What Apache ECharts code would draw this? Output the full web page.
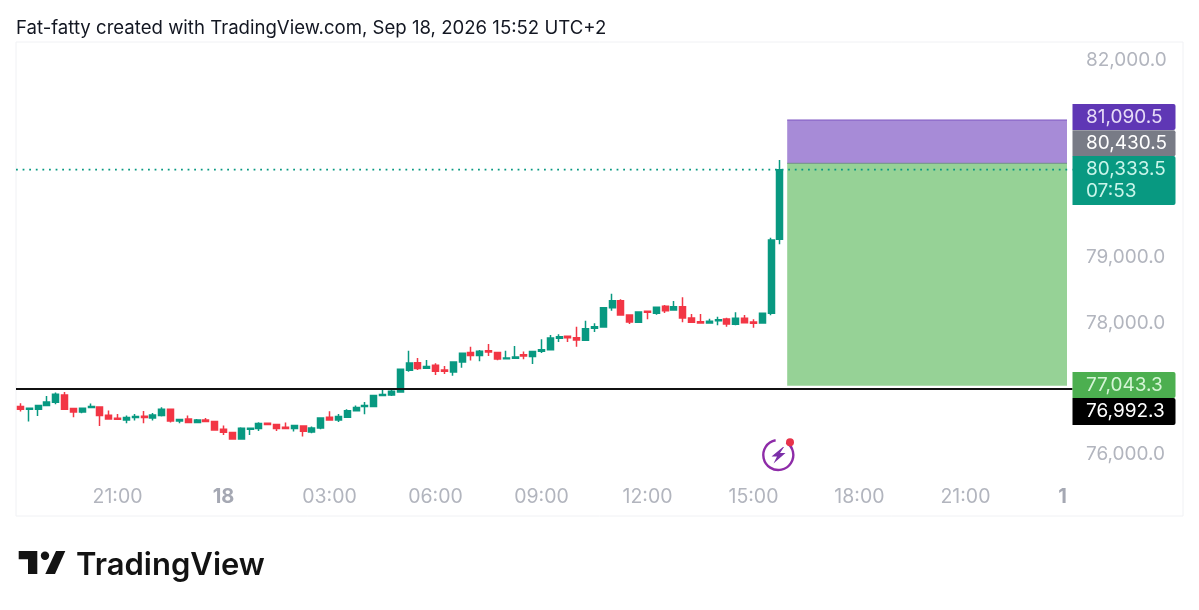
<!DOCTYPE html>
<html><head><meta charset="utf-8">
<style>html,body{margin:0;padding:0;background:#fff}#c{width:1199px;height:610px}</style>
<script src="https://cdn.jsdelivr.net/npm/echarts@6/dist/echarts.min.js"></script>
</head><body><div id="c"></div>
<script>
const opens=[76725,76684,76684,76740,76791,76902,76694,76643,76709,76719,76593,76547,76521,76557,76577,76552,76587,76684,76506,76537,76481,76521,76496,76379,76328,76232,76379,76389,76471,76450,76410,76389,76430,76338,76399,76562,76521,76562,76663,76724,76724,76892,76902,76948,77278,77394,77308,77354,77283,77252,77405,77547,77501,77577,77547,77455,77460,77516,77486,77566,77592,77764,77795,77775,77734,77917,77937,78232,78338,78120,78008,78176,78145,78252,78196,78247,78074,78018,77998,78034,78059,77978,78069,78013,77998,78145,79273];
const closes=[76684,76699,76740,76796,76912,76684,76643,76699,76725,76587,76537,76532,76557,76572,76557,76598,76684,76506,76527,76481,76521,76496,76369,76334,76232,76395,76395,76466,76450,76389,76389,76435,76349,76399,76552,76521,76572,76663,76709,76740,76892,76907,76958,77293,77389,77303,77334,77262,77262,77405,77537,77501,77567,77557,77450,77466,77481,77496,77562,77592,77770,77790,77775,77739,77912,77942,78232,78338,78120,78013,78166,78161,78237,78186,78247,78074,78008,77998,78023,78049,77983,78069,78003,77993,78145,79263,80333.5];
const lows=[76648,76496,76582,76740,76760,76684,76562,76623,76704,76430,76532,76527,76471,76511,76471,76511,76572,76481,76471,76471,76476,76486,76369,76293,76227,76232,76293,76354,76445,76354,76379,76344,76267,76318,76379,76516,76491,76557,76658,76608,76714,76892,76887,76948,77257,77283,77303,77207,77222,77196,77318,77425,77415,77496,77430,77450,77455,77445,77374,77541,77582,77709,77709,77638,77729,77861,77932,78186,78120,77983,78008,78054,78125,78150,78186,78008,78003,77998,77993,77963,77942,77963,77993,77927,77998,78115,79197];
const highs=[76775,76699,76740,76887,76938,76948,76694,76699,76770,76719,76664,76613,76587,76613,76659,76628,76714,76684,76527,76587,76537,76552,76496,76435,76328,76410,76395,76486,76471,76461,76481,76445,76430,76420,76552,76653,76613,76684,76740,76795,76902,77004,77004,77293,77577,77466,77435,77384,77344,77415,77547,77638,77587,77679,77557,77577,77648,77562,77577,77749,77815,77825,77795,77942,78034,77993,78232,78445,78359,78120,78176,78181,78247,78272,78333,78389,78135,78135,78064,78095,78079,78161,78120,78054,78145,79298,80481];
const priceTicks=[76000,78000,79000,82000];
const timeTickSlots=[11,23,35,47,59,71,83,95,107,118];
const timeTickLabels=['21:00','18','03:00','06:00','09:00','12:00','15:00','18:00','21:00','1'];
const slotCount=119;
const zoneStartSlot=87;
const zoneTop=[81090.5,80430.5];
const zoneBottom=[80430.5,77043.3];
const levelPrices=[80333.5,76992.3];
const tagPrices=[81090.5,80430.5,80333.5,77043.3,76992.3];
const tagLabels=['81,090.5','80,430.5','80,333.5\n07:53','77,043.3','76,992.3'];
const tagStyles=[
 {bg:'#5f37b5',fg:'#e6dbf7',dy:-16,h:26},
 {bg:'#787b86',fg:'#ffffff',dy:-33,h:26},
 {bg:'#089981',fg:'#c9f5ea',dy:-13.7,h:49},
 {bg:'#4caf50',fg:'#d5f5d6',dy:-13.7,h:26},
 {bg:'#000000',fg:'#ffffff',dy:9,h:27}];
const levelStyles=[
 {stroke:'#089981',lineWidth:1.8,lineDash:[1.8,4.8]},
 {stroke:'#111111',lineWidth:1.8,lineDash:null}];
const categories=Array.from({length:slotCount},(_,i)=>{const k=timeTickSlots.indexOf(i);return k>=0?timeTickLabels[k]:'';});
const zoneColors=[['#a78bd7','#7e57c2'],['#96d296','#6f8f86']];
const FONT='Inter';
const chart=echarts.init(document.getElementById('c'),null,{renderer:'canvas'});
chart.setOption({
 animation:false,
 backgroundColor:'#fff',
 title:{text:'Fat-fatty created with TradingView.com, Sep 18, 2026 15:52 UTC+2',left:16,top:19,padding:0,
   textStyle:{fontFamily:FONT,fontSize:18.6,fontWeight:400,color:'#131722'}},
 grid:{left:16,right:132,top:42,bottom:94,containLabel:false},
 xAxis:{type:'category',data:categories,boundaryGap:true,
   axisLine:{show:false},axisTick:{show:false},splitLine:{show:false},
   axisLabel:{interval:(i)=>categories[i]!=='',margin:-29,showMinLabel:true,showMaxLabel:true,hideOverlap:false,
     fontFamily:FONT,fontSize:19.5,color:'#b2b5be',
     formatter:(v)=>(v==='18'||v==='1')?'{b|'+v+'}':v,
     rich:{b:{fontFamily:FONT,fontSize:20,fontWeight:700,color:'#a5a8b3'}}}},
 yAxis:{type:'value',position:'right',min:75057.7,max:82278.8,scale:true,
   axisLine:{show:false},axisTick:{show:false},splitLine:{show:false},
   axisLabel:{customValues:priceTicks,margin:19,align:'left',fontFamily:FONT,fontSize:19,color:'#b2b5be',
     formatter:(v)=>Number(v).toLocaleString('en-US',{minimumFractionDigits:1})}},
 graphic:[
  {type:'rect',z:-1,shape:{x:16,y:42,width:1167,height:474},style:{fill:'none',stroke:'#f0f1f4',lineWidth:1}},
  {type:'polygon',shape:{points:[[18.7,551],[37.3,551],[37.3,574],[28,574],[28,559.3],[18.7,559.3]]},style:{fill:'#131313'}},
  {type:'circle',shape:{cx:45,cy:555.7,r:4.2},style:{fill:'#131313'}},
  {type:'polygon',shape:{points:[[56,551],[65.3,551],[55,574],[45.3,574]]},style:{fill:'#131313'}},
  {type:'text',left:76,top:550,style:{text:'TradingView',fontFamily:FONT,fontSize:31,fontWeight:600,fill:'#131313',letterSpacing:-1}},
  {type:'arc',shape:{cx:778.3,cy:455,r:15,startAngle:-1.0,endAngle:-1.75,clockwise:true},style:{fill:'none',stroke:'#8e2ca8',lineWidth:2.4}},
  {type:'polygon',shape:{points:[[783,447],[771.5,456.5],[777,456.5],[773.5,463.5],[785.5,453],[780,453],[784,447]]},style:{fill:'#7b2fa8'}},
  {type:'circle',shape:{cx:790,cy:442.3,r:4},style:{fill:'#e8334a'}}
 ],
 series:[
  {type:'custom',name:'zones',z:1,silent:true,
   data:zoneTop.map((t,i)=>[zoneStartSlot,t,zoneBottom[i],i]),
   renderItem:(params,api)=>{
     const a=api.coord([api.value(0),api.value(1)]);
     const b=api.coord([api.value(0),api.value(2)]);
     const c=zoneColors[api.value(3)];
     const x0=a[0]-1.6, x1=params.coordSys.x+params.coordSys.width;
     return {type:'group',children:[
       {type:'rect',shape:{x:x0,y:a[1],width:x1-x0,height:b[1]-a[1]},style:{fill:c[0]}},
       {type:'line',shape:{x1:x0,y1:a[1],x2:x1,y2:a[1]},style:{stroke:c[1],lineWidth:1}}
     ]};
   }},
  {type:'candlestick',z:3,barWidth:6.5,
   data:opens.map((o,i)=>[o,closes[i],lows[i],highs[i]]),
   itemStyle:{color:'#089981',color0:'#f23645',borderColor:'#089981',borderColor0:'#f23645',borderWidth:1.5}},
  {type:'custom',name:'levels',z:4,silent:true,clip:false,
   data:levelPrices.map((p,i)=>[0,p,i]),
   renderItem:(params,api)=>{
     const y=api.coord([0,api.value(1)])[1];
     const s=levelStyles[api.value(2)];
     const cs=params.coordSys;
     return {type:'line',shape:{x1:cs.x,y1:y,x2:cs.x+cs.width+5.5,y2:y},style:{stroke:s.stroke,lineWidth:s.lineWidth,lineDash:s.lineDash}};
   }},
  {type:'custom',name:'tags',z:6,silent:true,clip:false,
   data:tagPrices.map((p,i)=>[slotCount-1,p,i]),
   renderItem:(params,api)=>{
     const i=api.value(2), s=tagStyles[i];
     const y=api.coord([api.value(0),api.value(1)])[1]+s.dy;
     const x0=params.coordSys.x+params.coordSys.width+5.5;
     const two=tagLabels[i].includes('\n');
     return {type:'group',children:[
       {type:'rect',shape:{x:x0,y:y,width:103,height:s.h,r:[0,2,2,0]},style:{fill:s.bg}},
       {type:'text',style:{x:x0+13.5,y:y+(two?24.5:s.h/2),text:tagLabels[i],fill:s.fg,fontFamily:FONT,fontSize:19,lineHeight:22,verticalAlign:'middle',align:'left'}}
     ]};
   }}
 ]
});
</script></body></html>
